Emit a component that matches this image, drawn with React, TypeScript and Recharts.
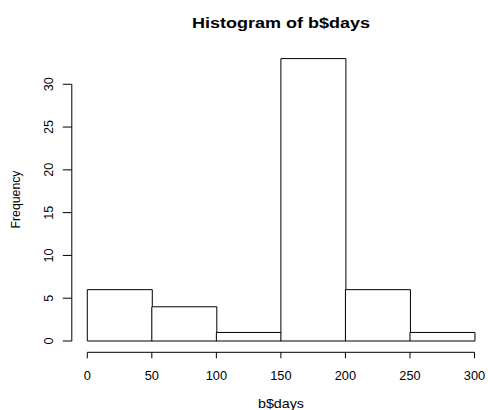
import { BarChart, Bar, XAxis, YAxis, ReferenceLine } from "recharts";

// histogram of b$days: bins of width 50 from 0 to 300
const binStarts = [0, 50, 100, 150, 200, 250];
const binWidth = 50;
const counts = [6, 4, 1, 33, 6, 1];
const xTicks = [0, 50, 100, 150, 200, 250, 300];
const yTicks = [0, 5, 10, 15, 20, 25, 30];

const data = binStarts.map((start, i) => ({
  mid: start + binWidth / 2,
  count: counts[i],
}));

// R pads the data range by 4% on each side
const X_DOMAIN: [number, number] = [-12, 312];
const Y_DOMAIN: [number, number] = [-1.32, 34.32];

const CHART_W = 490;
const CHART_H = 410;
const MARGIN = { top: 47.3, right: 0, bottom: 27.7, left: 11.8 };
const Y_AXIS_W = 60;
const X_AXIS_H = 30;

const FONT = '"Liberation Sans", Arial, Helvetica, sans-serif';

const XTick = (props: any) => {
  const { x, y, payload } = props;
  return (
    <text x={x} y={y} textAnchor="middle" fontFamily={FONT} fontSize={12.8} fill="#000">
      {payload.value}
    </text>
  );
};

const YTick = (props: any) => {
  const { x, y, payload } = props;
  return (
    <text
      x={x}
      y={y}
      transform={`rotate(-90, ${x}, ${y})`}
      textAnchor="middle"
      fontFamily={FONT}
      fontSize={12.6}
      fill="#000"
    >
      {payload.value}
    </text>
  );
};

export default function App() {
  return (
    <div
      style={{
        position: "absolute",
        left: 0,
        top: 0,
        width: 488,
        height: 410,
        overflow: "hidden",
        background: "#fff",
      }}
    >
      <BarChart
        width={CHART_W}
        height={CHART_H}
        data={data}
        margin={MARGIN}
        barCategoryGap={0}
        barGap={0}
      >
        <XAxis
          dataKey="mid"
          type="number"
          domain={X_DOMAIN}
          ticks={xTicks}
          interval={0}
          height={X_AXIS_H}
          axisLine={false}
          tickLine={{ stroke: "#000" }}
          tickSize={6}
          tickMargin={21.7}
          tick={<XTick />}
        />
        <YAxis
          type="number"
          domain={Y_DOMAIN}
          ticks={yTicks}
          interval={0}
          width={Y_AXIS_W}
          axisLine={false}
          tickLine={{ stroke: "#000" }}
          tickSize={9}
          tickMargin={9.5}
          tick={<YTick />}
        />
        <ReferenceLine
          segment={[
            { x: xTicks[0], y: Y_DOMAIN[0] },
            { x: xTicks[xTicks.length - 1], y: Y_DOMAIN[0] },
          ]}
          stroke="#000"
          ifOverflow="visible"
        />
        <ReferenceLine
          segment={[
            { x: X_DOMAIN[0], y: yTicks[0] },
            { x: X_DOMAIN[0], y: yTicks[yTicks.length - 1] },
          ]}
          stroke="#000"
          ifOverflow="visible"
        />
        <Bar
          dataKey="count"
          fill="#fff"
          stroke="#000"
          strokeWidth={1}
          isAnimationActive={false}
        />
      </BarChart>
      <svg
        width={488}
        height={410}
        style={{ position: "absolute", left: 0, top: 0, pointerEvents: "none" }}
      >
        <text
          x={281}
          y={27.6}
          textAnchor="middle"
          fontFamily={FONT}
          fontWeight="bold"
          fontSize={14.5}
          textLength={178}
          lengthAdjust="spacingAndGlyphs"
        >
          Histogram of b$days
        </text>
        <text
          x={281}
          y={408.3}
          textAnchor="middle"
          fontFamily={FONT}
          fontSize={13}
          textLength={46}
          lengthAdjust="spacingAndGlyphs"
        >
          b$days
        </text>
        <text
          x={19.5}
          y={199.5}
          transform="rotate(-90, 19.5, 199.5)"
          textAnchor="middle"
          fontFamily={FONT}
          fontSize={12.5}
          textLength={58}
          lengthAdjust="spacingAndGlyphs"
        >
          Frequency
        </text>
      </svg>
    </div>
  );
}
